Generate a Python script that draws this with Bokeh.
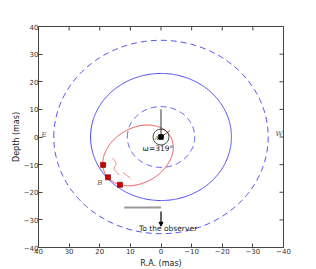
import numpy as np
from bokeh.plotting import figure
from bokeh.layouts import row
from bokeh.models import Range1d, Arrow, NormalHead, FixedTicker, Spacer
from bokeh.core.properties import value
from bokeh.embed import file_html
from bokeh.resources import INLINE

# ---- data ----
tick_values = [40, 30, 20, 10, 0, -10, -20, -30, -40]
tick_labels = ["40", "30", "20", "10", "0", "\u221210", "\u221220", "\u221230", "\u221240"]

circle_radii = [35, 23, 11]
circle_dash = ["6 4", "solid", "6 4"]

orbit_center = [7.5, -6.65]
orbit_axes = [12.7, 9.6]
orbit_angle_deg = -40.0

obs_x = [18.9, 17.3, 13.4]
obs_y = [-10.1, -14.6, -17.3]

squig1_x = [15.9, 15.0, 14.6, 15.2, 15.3, 14.4, 13.7]
squig1_y = [-7.7, -8.6, -9.8, -10.8, -11.8, -12.8, -13.8]
squig2_x = [12.4, 11.9, 11.4, 11.0, 10.5, 10.1]
squig2_y = [-13.0, -13.2, -13.8, -14.1, -14.3, -15.0]

ref_line_x = [0, 0]
ref_line_y = [0, 10]
omega_line_x = [0, -2.9]
omega_line_y = [0, 2.3]

bar_x = [12, 0]
bar_y = [-25.5, -25.5]
arrow_x = [0, 0]
arrow_y = [-27, -32.3]

labels_serif = ["E", "W", "B"]
labels_serif_x = [38.2, -38.6, 20.0]
labels_serif_y = [0.6, 1.1, -16.8]

BLUE = "#4a4af5"
RED = "#f04848"
FRAME = "#444444"

FW, FH = 245, 221
BL, BT, BR, BB = 28, 26, 21, 21
XMIN, XMAX, YMIN, YMAX = 40, -40, -40, 40

p = figure(frame_width=FW, frame_height=FH,
           x_range=Range1d(XMIN, XMAX), y_range=Range1d(YMIN, YMAX),
           output_backend="svg", toolbar_location=None,
           min_border_left=BL, min_border_top=BT, min_border_right=BR, min_border_bottom=BB,
           background_fill_color="white", border_fill_color="white")
p.grid.visible = False
p.outline_line_color = FRAME
p.outline_line_width = 1

ticker = FixedTicker(ticks=tick_values)
overrides = {v: l for v, l in zip(tick_values, tick_labels)}
for ax in [p.xaxis[0], p.yaxis[0]]:
    ax.ticker = ticker
    ax.major_label_overrides = overrides
    ax.major_tick_in = 4
    ax.major_tick_out = 0
    ax.minor_tick_line_color = None
    ax.major_tick_line_color = FRAME
    ax.axis_line_color = FRAME
    ax.major_label_text_font = "DejaVu Sans"
    ax.major_label_text_font_size = "7px"
    ax.major_label_text_color = "#333333"
    ax.axis_label_text_font = "DejaVu Sans"
    ax.axis_label_text_font_size = "8px"
    ax.axis_label_text_font_style = "normal"
    ax.axis_label_text_color = "#222222"
p.xaxis[0].major_label_standoff = 0
p.xaxis[0].axis_label_standoff = 2
p.yaxis[0].major_label_standoff = 0
p.yaxis[0].axis_label_standoff = 0
p.xaxis[0].axis_label = "R.A. (mas)"
p.yaxis[0].axis_label = "Depth (mas)"

# inward ticks on top and right edges (4 px long)
dy_tick = 4 * (YMAX - YMIN) / FH
dx_tick = 4 * abs(XMAX - XMIN) / FW
tv = np.array(tick_values, dtype=float)
p.segment(x0=tv, y0=np.full(tv.size, YMAX), x1=tv, y1=np.full(tv.size, YMAX - dy_tick),
          line_color=FRAME, line_width=1)
p.segment(x0=np.full(tv.size, XMAX), y0=tv, x1=np.full(tv.size, XMAX + dx_tick), y1=tv,
          line_color=FRAME, line_width=1)

t = np.linspace(0, 2 * np.pi, 400)
for r, d in zip(circle_radii, circle_dash):
    p.line(r * np.cos(t), r * np.sin(t), line_color=BLUE, line_width=1, line_dash=d)

th = np.deg2rad(orbit_angle_deg)
a, b = orbit_axes
ox = orbit_center[0] + a * np.cos(th) * np.cos(t) - b * np.sin(th) * np.sin(t)
oy = orbit_center[1] + a * np.sin(th) * np.cos(t) + b * np.cos(th) * np.sin(t)
p.line(ox, oy, line_color=RED, line_width=1)

p.line(squig1_x, squig1_y, line_color=RED, line_width=0.8, line_alpha=0.8)
p.line(squig2_x, squig2_y, line_color=RED, line_width=0.8, line_alpha=0.8)

p.scatter(obs_x, obs_y, marker="square", size=5, fill_color="#cc0000", line_color="#8b0000", line_width=0.7)

p.line(ref_line_x, ref_line_y, line_color="#333333", line_width=1)
p.line(omega_line_x, omega_line_y, line_color="#333333", line_width=0.8)
p.scatter([0], [0], marker="circle", size=16, fill_color=None, line_color="#222222", line_width=0.8)
p.scatter([0], [0], marker="square", size=4.5, fill_color="black", line_color="black")
p.text([1.4], [0.0], text=["A"], text_font=value("DejaVu Serif"), text_font_style="italic",
       text_font_size="6px", text_color="#444444", text_align="center", text_baseline="middle")
p.text([1.0], [-4.1], text=["\u03c9=319\u00b0"], text_font=value("DejaVu Sans"),
       text_font_size="7.5px", text_color="#222222", text_align="center", text_baseline="middle")

p.line(bar_x, bar_y, line_color="#999999", line_width=2)
p.add_layout(Arrow(end=NormalHead(size=4, fill_color="black", line_color="black"),
                   x_start=arrow_x[0], y_start=arrow_y[0], x_end=arrow_x[1], y_end=arrow_y[1],
                   line_color="black", line_width=1.2))
p.text([-2.3], [-33.0], text=["To the observer"], text_font=value("DejaVu Sans"),
       text_font_size="7.5px", text_color="#222222", text_align="center", text_baseline="middle")

p.text(labels_serif_x, labels_serif_y, text=labels_serif, text_font=value("DejaVu Serif"),
       text_font_style="italic", text_font_size="7px", text_color="#555555",
       text_align="center", text_baseline="middle")

layout = row(Spacer(width=8, height=10), p)
open("out.html", "w").write(file_html(layout, INLINE))
